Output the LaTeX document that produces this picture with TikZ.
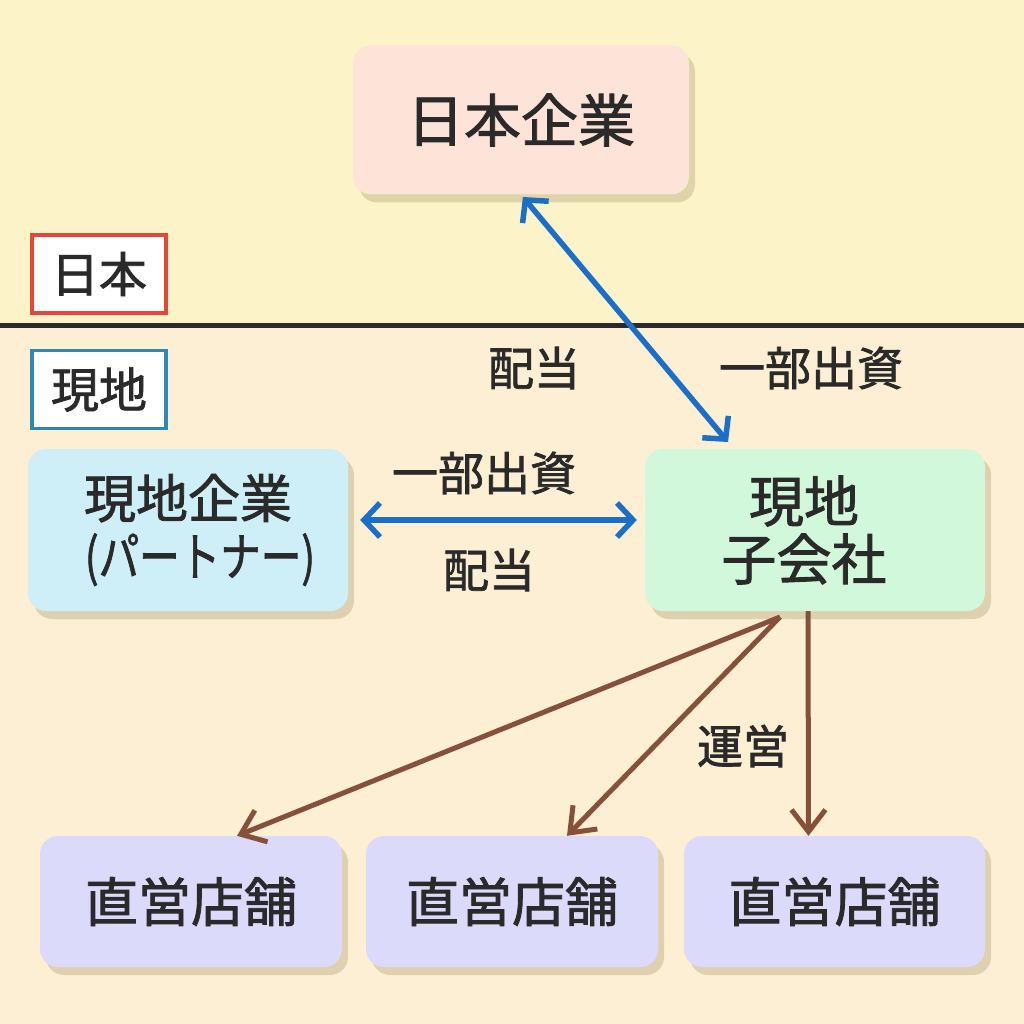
\documentclass[tikz,border=0pt]{standalone}
\usepackage{fontspec}
\setmainfont{Noto Sans CJK JP}[FakeBold=1.6]
\usepackage{xcolor}
\usetikzlibrary{arrows.meta,shadows}

\definecolor{bgtop}{HTML}{FCF3C9}
\definecolor{bgbot}{HTML}{FDEFD3}
\definecolor{ink}{HTML}{2A2A2A}
\definecolor{shade}{HTML}{9C8E5E}
\definecolor{jpfill}{HTML}{FDE3D8}
\definecolor{partnerfill}{HTML}{CFEFF8}
\definecolor{subfill}{HTML}{D2F8DC}
\definecolor{storefill}{HTML}{DCDAFB}
\definecolor{tagred}{HTML}{E4473A}
\definecolor{tagblue}{HTML}{2E87B5}
\definecolor{flowblue}{HTML}{1C6FC6}
\definecolor{runbrown}{HTML}{87503A}

\begin{document}
\begin{tikzpicture}[x=1pt, y=-1pt,
    box/.style = {shape=rectangle, rounded corners=18pt,
      align=center, inner sep=0pt, text=ink,
      font=\fontsize{52}{58}\selectfont,
      drop shadow={shadow xshift=6pt, shadow yshift=-8pt,
        opacity=0.3, fill=shade}},
    tag/.style = {shape=rectangle, draw, line width=3.5pt, fill=white,
      inner sep=0pt, minimum width=134pt, minimum height=78pt,
      text=ink, font=\fontsize{48}{56}\selectfont},
    lbl/.style = {text=ink, font=\fontsize{46}{54}\selectfont},
    flow/.style = {draw=flowblue, line width=5.5pt,
      {Straight Barb[length=16pt,width=34pt]}-{Straight Barb[length=16pt,width=34pt]}},
    run/.style = {draw=runbrown, line width=5pt,
      -{Straight Barb[length=22pt,width=34pt]}}]
    \useasboundingbox (0,0) rectangle (1024,1024);
    \fill[bgtop] (0,0) rectangle (1024,325);
    \fill[bgbot] (0,325) rectangle (1024,1024);
    \draw[ink, line width=5pt] (0,325) -- (1024,325);

    \node[tag, draw=tagred] (japan) at (99,274) {日本};
    \node[tag, draw=tagblue] (local) at (99,389.5) {現地};

    \node[box, fill=jpfill, minimum width=336pt, minimum height=149pt,
      font=\fontsize{57}{60}\selectfont] (jpco) at (521,120) {日本企業};
    \node[box, fill=partnerfill, minimum width=320pt, minimum height=162pt]
      (partner) at (188,530) {現地企業\\\hspace*{24pt}\scalebox{0.78}[1]{(パートナー)}};
    \node[box, fill=subfill, minimum width=340pt, minimum height=162pt,
      font=\fontsize{55}{58}\selectfont] (sub) at (815,530)
      {現地\hspace*{22pt}\\子会社\hspace*{22pt}};
    \node[box, fill=storefill, minimum width=302pt, minimum height=131pt,
      font=\fontsize{53}{58}\selectfont] (store1) at (191,901.5) {直営店舗};
    \node[box, fill=storefill, minimum width=292pt, minimum height=131pt,
      font=\fontsize{53}{58}\selectfont] (store2) at (512,901.5) {直営店舗};
    \node[box, fill=storefill, minimum width=301pt, minimum height=131pt,
      font=\fontsize{53}{58}\selectfont] (store3) at (834.5,901.5) {直営店舗};

    \coordinate (subin) at (728,442);
    \coordinate (runout) at (780,617);

    \draw[flow, shorten <=3pt] (jpco.south) -- (subin);
    \draw[flow, shorten <=12pt, shorten >=8pt]
      ([yshift=10pt]partner.east) -- ([yshift=10pt]sub.west);
    \draw[run] (runout) -- ([xshift=46pt]store1.north);
    \draw[run] (runout) -- ([xshift=55pt]store2.north);
    \draw[run] ([xshift=-7pt]sub.south) -- ([xshift=-26pt]store3.north);

    \node[lbl] (divup) at (534,368) {配当};
    \node[lbl] (invup) at (811,368) {一部出資};
    \node[lbl] (invmid) at (484,473) {一部出資};
    \node[lbl] (divmid) at (489,570) {配当};
    \node[lbl] (manage) at (743,746) {運営};
\end{tikzpicture}
\end{document}
